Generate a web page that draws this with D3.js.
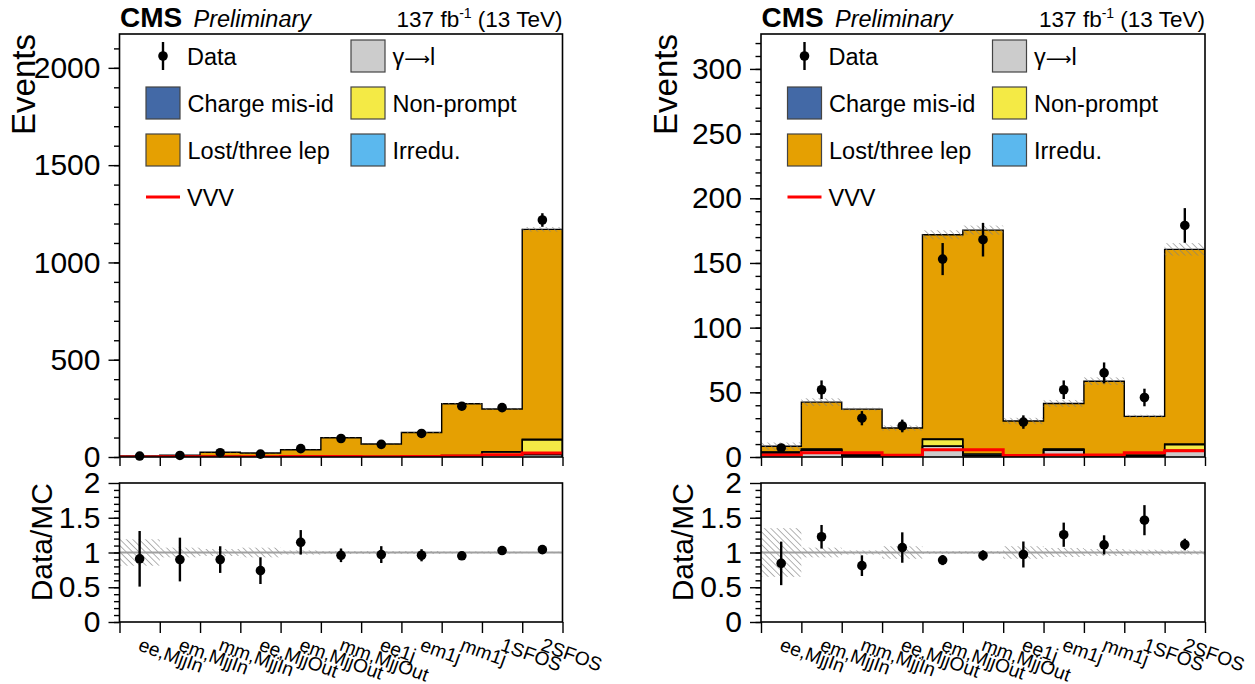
<!DOCTYPE html>
<html>
<head>
<meta charset="utf-8">
<script src="https://cdn.jsdelivr.net/npm/d3@7"></script>
<style>
  body { margin: 0; background: #fff; }
  svg { display: block; }
  text { font-family: "Liberation Sans", Arial, Helvetica, sans-serif; fill: #000; }
</style>
</head>
<body>
<svg id="chart" width="1255" height="684"></svg>
<script>
// ---- bin labels ----
const categories = ["ee,MjjIn", "em,MjjIn", "mm,MjjIn", "ee,MjjOut", "em,MjjOut", "mm,MjjOut",
                    "ee1j", "em1j", "mm1j", "1SFOS", "2SFOS"];

// ---- left panel ----
const dataL      = [5, 8, 22, 15, 43, 95, 65, 121, 261, 254, 1218];
const dataErrL   = [2.2, 2.8, 4.7, 3.9, 6.6, 9.7, 8.1, 11.0, 16.2, 15.9, 34.9];
const gammaL     = [0.5, 0.8, 1.0, 0.5, 1.5, 2.0, 0.8, 2.5, 3.0, 10, 12];
const misIdL     = [0.2, 0.3, 0.2, 0.3, 0.3, 0.3, 0.3, 0.4, 0.5, 0, 0];
const nonPromptL = [0.5, 0.8, 1.0, 1.0, 2.5, 2.5, 1.0, 2.0, 3.0, 15, 75];
const irreduL    = [0.3, 0.3, 0.3, 0.2, 0.5, 0.8, 0.5, 0.8, 1.5, 2, 4];
const lostLepL   = [4.0, 6.7, 22.0, 18.3, 32.7, 93.4, 64.4, 120.3, 266, 220, 1079];
const vvvL       = [0.5, 1.0, 1.5, 0.8, 2.5, 3.0, 1.5, 3.0, 5.0, 11, 21];
const mcUncL     = [0.19, 0.07, 0.05, 0.07, 0.03, 0.02, 0.02, 0.02, 0.015, 0.015, 0.01];
const yTicksL    = [0, 500, 1000, 1500, 2000];

// ---- right panel ----
const dataR      = [7, 52, 30, 24, 153, 168, 27, 52, 65, 46, 179];
const dataErrR   = [2.6, 7.2, 5.5, 4.9, 12.4, 13.0, 5.2, 7.2, 8.1, 6.8, 13.4];
const gammaR     = [3.0, 5.0, 0.8, 0.5, 8.2, 1.0, 0.5, 5.2, 0.5, 0.5, 5.0];
const misIdR     = [0.3, 0.4, 0.1, 0.3, 0.3, 0.1, 0.2, 0.4, 0.1, 0, 0];
const nonPromptR = [0.5, 0.5, 0.5, 0.5, 5.0, 0.5, 0.3, 0.3, 0.5, 0.5, 4.5];
const irreduR    = [0.2, 0.3, 0.3, 0.2, 0.5, 0.8, 0.2, 0.3, 0.3, 0.5, 0.5];
const lostLepR   = [4.3, 36.2, 35.3, 20.9, 157.8, 173.0, 26.6, 35.2, 57.2, 29.9, 150.5];
const vvvR       = [1.5, 3.3, 3.3, 1.3, 5.7, 5.7, 1.2, 1.5, 1.5, 3.3, 4.9];
const mcUncR     = [0.35, 0.07, 0.03, 0.09, 0.02, 0.02, 0.09, 0.065, 0.05, 0.04, 0.03];
const yTicksR    = [0, 50, 100, 150, 200, 250, 300];

const ratioTicks = [0, 0.5, 1, 1.5, 2];

// ---- process styles (stacked bottom to top) ----
const processes = [
  { name: "γ→l",            color: "#cccccc" },
  { name: "Charge mis-id",  color: "#4369a6" },
  { name: "Non-prompt",     color: "#f4ea45" },
  { name: "Irredu.",        color: "#5bb8ee" },
  { name: "Lost/three lep", color: "#e5a002" }
];

const svg = d3.select("#chart");
const FONT = "\"Liberation Sans\", Arial, Helvetica, sans-serif";

// hatch used for the MC uncertainty bands
const defs = svg.append("defs");
defs.append("pattern")
  .attr("id", "hatch")
  .attr("patternUnits", "userSpaceOnUse")
  .attr("width", 4.5).attr("height", 4.5)
  .attr("patternTransform", "rotate(-45)")
  .append("line")
  .attr("x1", 0).attr("y1", 0).attr("x2", 0).attr("y2", 4.5)
  .attr("stroke", "#808080").attr("stroke-width", 1.2);

const TOP = { y0: 34, y1: 457 };
const RAT = { y0: 483, y1: 622 };

// legend label; the arrow is drawn as a long arrow glyph
function legendLabel(sel, name) {
  if (name.includes("→")) {
    const [a, b] = name.split("→");
    sel.append("tspan").text(a);
    sel.append("tspan").attr("font-family", "\"DejaVu Sans\", sans-serif").attr("font-size", 18).text("⟶");
    sel.append("tspan").text(b);
  } else {
    sel.text(name);
  }
}

function drawPanel(cfg) {
  const nb = categories.length;
  const comps = [cfg.gamma, cfg.misId, cfg.nonPrompt, cfg.irredu, cfg.lostLep];
  const g = svg.append("g");

  const x = d3.scaleLinear().domain([0, nb]).range([cfg.x0, cfg.x1]);
  const y = d3.scaleLinear().domain([0, cfg.ymax]).range([TOP.y1, TOP.y0]);
  const yr = d3.scaleLinear().domain([0, 2]).range([RAT.y1, RAT.y0]);

  // cumulative stack
  const cum = [];
  let base = new Array(nb).fill(0);
  comps.forEach(c => {
    const top = base.map((b, i) => b + c[i]);
    cum.push({ lo: base, hi: top });
    base = top;
  });
  const total = base;

  const clipId = "clip" + cfg.id;
  defs.append("clipPath").attr("id", clipId)
    .append("rect").attr("x", cfg.x0).attr("y", TOP.y0)
    .attr("width", cfg.x1 - cfg.x0).attr("height", TOP.y1 - TOP.y0);
  const plot = g.append("g").attr("clip-path", `url(#${clipId})`);

  const stepPts = vals => vals.map((v, i) => [i, v]).concat([[nb, vals[nb - 1]]]);
  const area = d3.area().curve(d3.curveStepAfter)
    .x(d => x(d[0])).y0(d => y(d[1])).y1(d => y(d[2]));
  const line = d3.line().curve(d3.curveStepAfter).x(d => x(d[0])).y(d => y(d[1]));
  const outline = d3.line().x(d => x(d[0])).y(d => y(d[1]));

  // stacked fills
  cum.forEach((c, k) => {
    const pts = c.lo.map((lo, i) => [i, lo, c.hi[i]]).concat([[nb, c.lo[nb - 1], c.hi[nb - 1]]]);
    plot.append("path").attr("d", area(pts)).attr("fill", processes[k].color);
  });
  // outlines of each stacked histogram
  cum.forEach(c => {
    const out = [[0, 0]];
    c.hi.forEach((v, i) => { out.push([i, v]); out.push([i + 1, v]); });
    out.push([nb, 0]);
    plot.append("path").attr("d", outline(out))
      .attr("fill", "none").attr("stroke", "#000").attr("stroke-width", 1.4);
  });

  // MC uncertainty band
  plot.selectAll(".band").data(total).enter().append("rect")
    .attr("x", (d, i) => x(i)).attr("width", (d, i) => x(i + 1) - x(i))
    .attr("y", (d, i) => y(d * (1 + cfg.unc[i])))
    .attr("height", (d, i) => y(d * (1 - cfg.unc[i])) - y(d * (1 + cfg.unc[i])))
    .attr("fill", "url(#hatch)");

  // VVV signal
  plot.append("path").attr("d", line(stepPts(cfg.vvv)))
    .attr("fill", "none").attr("stroke", "#ff0000").attr("stroke-width", 3);

  // data points
  const ctr = i => (x(i) + x(i + 1)) / 2;
  cfg.data.forEach((d, i) => {
    g.append("line").attr("x1", ctr(i)).attr("x2", ctr(i))
      .attr("y1", y(d - cfg.dataErr[i])).attr("y2", y(d + cfg.dataErr[i]))
      .attr("stroke", "#000").attr("stroke-width", 2.4);
    g.append("circle").attr("cx", ctr(i)).attr("cy", y(d)).attr("r", 4.8).attr("fill", "#000");
  });

  // frame + axes (top pad)
  g.append("rect").attr("x", cfg.x0).attr("y", TOP.y0)
    .attr("width", cfg.x1 - cfg.x0).attr("height", TOP.y1 - TOP.y0)
    .attr("fill", "none").attr("stroke", "#000").attr("stroke-width", 1.6);

  const minorT = d3.range(0, cfg.ymax, cfg.minorStep);
  g.append("g").attr("transform", `translate(${cfg.x0},0)`)
    .call(d3.axisLeft(y).tickValues(minorT).tickSize(5.5).tickFormat("").tickSizeOuter(0))
    .call(a => a.select(".domain").remove())
    .call(a => a.selectAll("line").attr("stroke-width", 1.4));
  g.append("g").attr("transform", `translate(${cfg.x0},0)`)
    .call(d3.axisLeft(y).tickValues(cfg.yTicks).tickSize(11).tickPadding(8).tickSizeOuter(0).tickFormat(d3.format("d")))
    .call(a => a.select(".domain").remove())
    .call(a => a.selectAll("line").attr("stroke-width", 1.4))
    .call(a => a.selectAll("text").attr("font-size", 30).attr("font-family", FONT).attr("fill", "#000"));
  g.append("g").attr("transform", `translate(0,${TOP.y1})`)
    .call(d3.axisBottom(x).tickValues(d3.range(nb + 1)).tickSize(9).tickFormat("").tickSizeOuter(0))
    .call(a => a.select(".domain").remove())
    .call(a => a.selectAll("line").attr("stroke-width", 1.4));

  g.append("text").attr("transform", `translate(${cfg.x0 - 84.5},${TOP.y0}) rotate(-90)`)
    .attr("text-anchor", "end").attr("font-size", 33).text("Events");

  // header
  g.append("text").attr("x", cfg.x0 + 0.5).attr("y", 27).attr("font-size", 28).attr("font-weight", "bold").text("CMS");
  g.append("text").attr("x", cfg.x0 + 74).attr("y", 27).attr("font-size", 23.5).attr("font-style", "italic").text("Preliminary");
  const lumi = g.append("text").attr("x", cfg.x1).attr("y", 27).attr("text-anchor", "end").attr("font-size", 22.5);
  lumi.append("tspan").text("137 fb");
  lumi.append("tspan").attr("dy", -9).attr("font-size", 14).text("-1");
  lumi.append("tspan").attr("dy", 9).text(" (13 TeV)");

  // legend
  const lx = cfg.x0;
  const rows = [56, 103, 150, 197];
  const lg = g.append("g").attr("font-size", 23.5);
  lg.append("line").attr("x1", lx + 43.5).attr("x2", lx + 43.5).attr("y1", rows[0] - 14).attr("y2", rows[0] + 14)
    .attr("stroke", "#000").attr("stroke-width", 2.4);
  lg.append("circle").attr("cx", lx + 43.5).attr("cy", rows[0]).attr("r", 4.8);
  lg.append("text").attr("x", lx + 67.5).attr("y", rows[0] + 8.5).text("Data");
  const legBoxes = [
    { p: 0, col: 1, row: 0 }, { p: 1, col: 0, row: 1 }, { p: 2, col: 1, row: 1 },
    { p: 4, col: 0, row: 2 }, { p: 3, col: 1, row: 2 }
  ];
  legBoxes.forEach(b => {
    const bx = lx + (b.col === 0 ? 26.5 : 231.5);
    lg.append("rect").attr("x", bx).attr("y", rows[b.row] - 16).attr("width", 34).attr("height", 32)
      .attr("fill", processes[b.p].color).attr("stroke", "#444").attr("stroke-width", 1.2);
    lg.append("text").attr("x", bx + 41.5).attr("y", rows[b.row] + 8.5).call(legendLabel, processes[b.p].name);
  });
  lg.append("line").attr("x1", lx + 26.5).attr("x2", lx + 60.5).attr("y1", rows[3]).attr("y2", rows[3])
    .attr("stroke", "#ff0000").attr("stroke-width", 3);
  lg.append("text").attr("x", lx + 67.5).attr("y", rows[3] + 8.5).text("VVV");

  // ---- ratio pad ----
  const rg = g.append("g");
  const ratio = cfg.data.map((d, i) => d / total[i]);
  const ratioErr = cfg.dataErr.map((e, i) => e / total[i]);

  rg.selectAll(".rband").data(cfg.unc).enter().append("rect")
    .attr("x", (d, i) => x(i)).attr("width", (d, i) => x(i + 1) - x(i))
    .attr("y", d => yr(1 + d)).attr("height", d => yr(1 - d) - yr(1 + d))
    .attr("fill", "url(#hatch)");
  rg.append("line").attr("x1", cfg.x0).attr("x2", cfg.x1).attr("y1", yr(1)).attr("y2", yr(1))
    .attr("stroke", "#a0a0a0").attr("stroke-width", 2);

  ratio.forEach((r, i) => {
    rg.append("line").attr("x1", ctr(i)).attr("x2", ctr(i))
      .attr("y1", yr(r - ratioErr[i])).attr("y2", yr(r + ratioErr[i]))
      .attr("stroke", "#000").attr("stroke-width", 2.4);
    rg.append("circle").attr("cx", ctr(i)).attr("cy", yr(r)).attr("r", 4.8);
  });

  rg.append("rect").attr("x", cfg.x0).attr("y", RAT.y0)
    .attr("width", cfg.x1 - cfg.x0).attr("height", RAT.y1 - RAT.y0)
    .attr("fill", "none").attr("stroke", "#000").attr("stroke-width", 1.6);
  rg.append("g").attr("transform", `translate(${cfg.x0},0)`)
    .call(d3.axisLeft(yr).tickValues(d3.range(0, 2, 0.1)).tickSize(5.5).tickFormat("").tickSizeOuter(0))
    .call(a => a.select(".domain").remove())
    .call(a => a.selectAll("line").attr("stroke-width", 1.4));
  rg.append("g").attr("transform", `translate(${cfg.x0},0)`)
    .call(d3.axisLeft(yr).tickValues(ratioTicks).tickSize(11).tickPadding(8).tickSizeOuter(0).tickFormat(d3.format("~g")))
    .call(a => a.select(".domain").remove())
    .call(a => a.selectAll("line").attr("stroke-width", 1.4))
    .call(a => a.selectAll("text").attr("font-size", 30).attr("font-family", FONT).attr("fill", "#000"));
  rg.append("g").attr("transform", `translate(0,${RAT.y1})`)
    .call(d3.axisBottom(x).tickValues(d3.range(nb + 1)).tickSize(11).tickFormat("").tickSizeOuter(0))
    .call(a => a.select(".domain").remove())
    .call(a => a.selectAll("line").attr("stroke-width", 1.4));

  rg.append("text").attr("transform", `translate(${cfg.x0 - 68},${RAT.y0}) rotate(-90)`)
    .attr("text-anchor", "end").attr("font-size", 30).text("Data/MC");

  categories.forEach((c, i) => {
    rg.append("text").attr("transform", `translate(${ctr(i) - 2.5},650) rotate(20)`)
      .attr("font-size", 19.2).text(c);
  });
}

drawPanel({
  id: "L", x0: 119.5, x1: 562.5, ymax: 2174, minorStep: 100, yTicks: yTicksL,
  data: dataL, dataErr: dataErrL, gamma: gammaL, misId: misIdL, nonPrompt: nonPromptL,
  irredu: irreduL, lostLep: lostLepL, vvv: vvvL, unc: mcUncL
});
drawPanel({
  id: "R", x0: 761, x1: 1205, ymax: 327, minorStep: 10, yTicks: yTicksR,
  data: dataR, dataErr: dataErrR, gamma: gammaR, misId: misIdR, nonPrompt: nonPromptR,
  irredu: irreduR, lostLep: lostLepR, vvv: vvvR, unc: mcUncR
});
</script>
</body>
</html>
